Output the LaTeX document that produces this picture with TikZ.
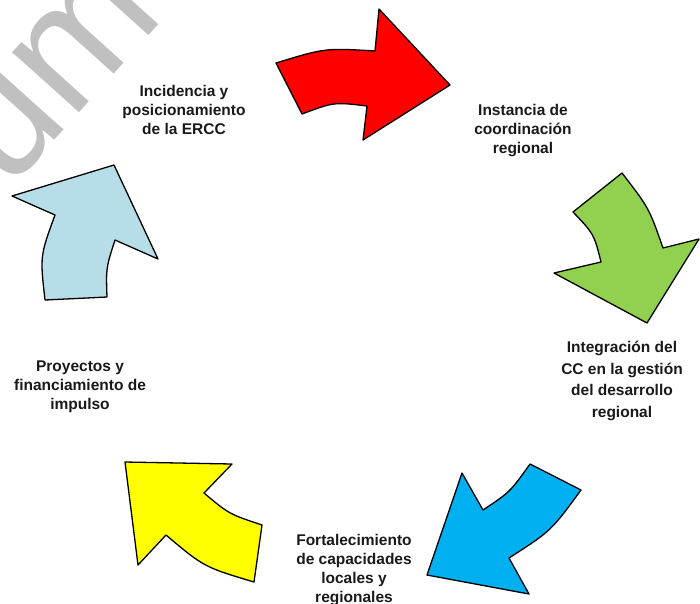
\documentclass[tikz,border=0pt]{standalone}
\usepackage{fontspec}
\setmainfont{Liberation Sans}
\definecolor{rojo}{HTML}{FF0000}
\definecolor{verde}{HTML}{92D050}
\definecolor{azul}{HTML}{00B0F0}
\definecolor{amarillo}{HTML}{FFFF00}
\definecolor{celeste}{HTML}{B7DEE8}
\definecolor{marca}{HTML}{C0C0C0}

\begin{document}
\begin{tikzpicture}[x=1pt,y=-1pt,
  every node/.style={font=\bfseries\fontsize{15.5}{19}\selectfont,align=center,text=black!90},
  flecha/.style={draw=black,line width=1.3pt,line join=round}]
\useasboundingbox (0,0) rectangle (700,603);
\begin{scope}
\clip (0,0) rectangle (700,603);
\node[rotate=48,text=marca,font=\fontsize{170}{170}\selectfont] (sello) at (54,55) {Documento};
\end{scope}

% flechas del ciclo
\filldraw[flecha,fill=rojo] (276,63) .. controls (325,48) .. (375,51) -- (379,9) -- (450,85)
   -- (363,140) -- (367,106) .. controls (334,102) .. (302,114) -- cycle;
\filldraw[flecha,fill=verde] (622,173) .. controls (649,208) .. (663,248) -- (699,239) -- (647,323)
   -- (554,273) -- (601,262) .. controls (594,234) .. (573,212) -- cycle;
\filldraw[flecha,fill=azul] (581,490) .. controls (551,531) .. (509,558) -- (529,594) -- (427,575)
   -- (462,473) -- (483,510) .. controls (510,492) .. (530,464) -- cycle;
\filldraw[flecha,fill=amarillo] (254,582) .. controls (204,567) .. (166,535) -- (138,565) -- (125,462)
   -- (232,464) -- (204,493) .. controls (229,514) .. (262,525) -- cycle;
\filldraw[flecha,fill=celeste] (45,300) .. controls (40,256) .. (55,215) -- (12,196) -- (114,165)
   -- (158,259) -- (115,240) .. controls (106,268) .. (107,297) -- cycle;

% etapas
\node (incidencia)  at (184,110) {Incidencia y\\posicionamiento\\de la ERCC};
\node (instancia)   at (523,131) {Instancia de\\coordinación\\regional};
\node[font=\bfseries\fontsize{15.5}{21.5}\selectfont] (integracion) at (622,381) {Integración del\\CC en la gestión\\del desarrollo\\regional};
\node (fortalec)    at (354,570) {Fortalecimiento\\de capacidades\\locales y\\regionales};
\node (proyectos)   at (80,387)  {Proyectos y\\financiamiento de\\impulso};
\end{tikzpicture}
\end{document}
